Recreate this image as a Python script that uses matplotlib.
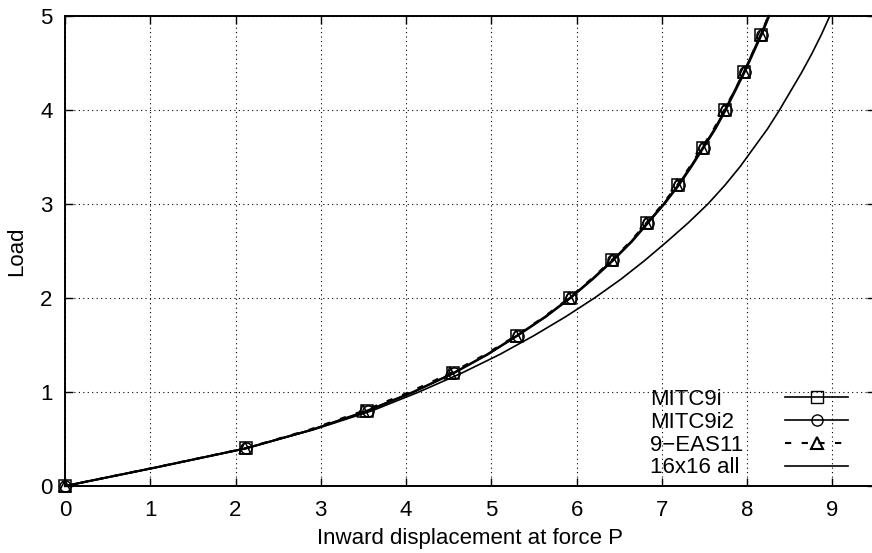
import matplotlib
matplotlib.use("Agg")
import matplotlib.pyplot as plt
from matplotlib.lines import Line2D

plt.rcParams['font.family'] = ['Liberation Sans', 'DejaVu Sans']

# Load levels
load = [0.0, 0.2, 0.4, 0.6, 0.8, 1.0, 1.2, 1.4, 1.6, 1.8, 2.0, 2.2, 2.4,
        2.6, 2.8, 3.0, 3.2, 3.4, 3.6, 3.8, 4.0, 4.2, 4.4, 4.6, 4.8, 5.0]

# Inward displacement for each series
mitc9i = [0.0, 1.08, 2.12, 2.90, 3.54, 4.08, 4.55, 4.95, 5.30, 5.63, 5.92, 6.18, 6.42,
          6.64, 6.83, 7.02, 7.19, 7.34, 7.48, 7.62, 7.74, 7.85, 7.96, 8.06, 8.16, 8.25]
mitc9i2 = [0.0, 1.08, 2.12, 2.90, 3.55, 4.09, 4.56, 4.96, 5.31, 5.64, 5.93, 6.19, 6.43,
           6.65, 6.84, 7.03, 7.20, 7.35, 7.49, 7.63, 7.75, 7.86, 7.97, 8.07, 8.17, 8.26]
eas11 = [0.0, 1.07, 2.11, 2.87, 3.50, 4.04, 4.52, 4.93, 5.29, 5.62, 5.91, 6.17, 6.41,
         6.63, 6.82, 7.01, 7.18, 7.33, 7.47, 7.61, 7.73, 7.85, 7.96, 8.06, 8.16, 8.25]
ref16 = [0.0, 1.08, 2.12, 2.92, 3.60, 4.15, 4.65, 5.10, 5.50, 5.87, 6.21, 6.52, 6.80,
         7.06, 7.31, 7.54, 7.74, 7.92, 8.08, 8.24, 8.38, 8.51, 8.64, 8.76, 8.87, 8.97]

labels = ['MITC9i', 'MITC9i2', '9\u2212EAS11', '16x16 all']
xticks = [0, 1, 2, 3, 4, 5, 6, 7, 8, 9]
yticks = [0, 1, 2, 3, 4, 5]

FS = 16

fig = plt.figure(figsize=(8.72, 5.53), dpi=100)
ax = fig.add_axes([65 / 872, 67 / 553, 810 / 872, 470 / 553])

mk = dict(markevery=2, markersize=8, markerfacecolor='none', markeredgecolor='black',
          markeredgewidth=1.1, color='black', clip_on=False, zorder=3)
l1, = ax.plot(mitc9i, load, '-', marker='s', lw=1.5, **mk)
l2, = ax.plot(mitc9i2, load, '-', marker='o', lw=1.5, **mk)
l3, = ax.plot(eas11, load, '--', marker='^', lw=1.5, dashes=(3, 5), **mk)
l4, = ax.plot(ref16, load, '-', color='black', lw=1.2, clip_on=False, zorder=3)

ax.set_xlim(0, 9.5)
ax.set_ylim(0, 5)
ax.set_xticks(xticks)
ax.set_yticks(yticks)
ax.grid(True, color='black', linestyle=(0, (1, 3)), linewidth=0.8)
ax.tick_params(direction='in', length=6, width=1, top=True, right=True,
               labelsize=FS)
ax.tick_params(axis='x', pad=10)
ax.tick_params(axis='y', pad=9)
for s in ax.spines.values():
    s.set_linewidth(1.4)
ax.set_xlabel('Inward displacement at force P', fontsize=FS, labelpad=5)
ax.set_ylabel('Load', fontsize=FS, labelpad=9)

# Legend: texts left-aligned, sample lines to the right
h_blank = [Line2D([], [], linestyle='none', marker=None) for _ in labels]
leg_text = ax.legend(h_blank, labels, loc='upper left', bbox_to_anchor=(650 / 872, 1 - 389 / 553),
                     bbox_transform=fig.transFigure, frameon=False, fontsize=FS,
                     handlelength=0, handletextpad=0, borderpad=0, borderaxespad=0,
                     labelspacing=0.08)
ax.add_artist(leg_text)
h1 = Line2D([], [], color='black', lw=1.2, marker='s', markersize=8,
            markerfacecolor='none', markeredgecolor='black')
h2 = Line2D([], [], color='black', lw=1.2, marker='o', markersize=8,
            markerfacecolor='none', markeredgecolor='black')
h3 = Line2D([], [], color='black', lw=1.5, linestyle='--', dashes=(3, 5), marker='^',
            markersize=8, markerfacecolor='none', markeredgecolor='black', markeredgewidth=1.5)
h4 = Line2D([], [], color='black', lw=1.2)
ax.legend([h1, h2, h3, h4], ['', '', '', ''], loc='upper left',
          bbox_to_anchor=(785 / 872, 1 - 389 / 553), bbox_transform=fig.transFigure,
          frameon=False, fontsize=FS, handlelength=63 / 22.2, handletextpad=0,
          borderpad=0, borderaxespad=0, labelspacing=0.08)

fig.savefig('out.png', dpi=100)
